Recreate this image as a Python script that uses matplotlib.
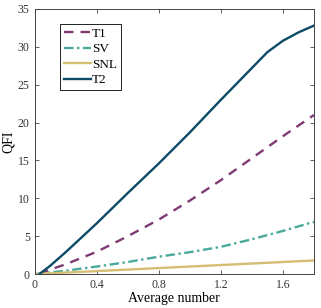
import matplotlib

matplotlib.use("Agg")
import matplotlib.pyplot as plt

plt.rcParams["font.family"] = ["Liberation Serif", "DejaVu Serif"]

# values
avg_t2 = [0.03, 0.1, 0.2, 0.4, 0.6, 0.8, 1.0, 1.2, 1.4, 1.5, 1.6, 1.7, 1.8]
qfi_t2 = [0.0, 1.1, 2.9, 6.7, 10.7, 14.6, 18.7, 23.0, 27.2, 29.3, 30.8, 31.9, 32.8]

avg_t1 = [0.03, 0.1, 0.2, 0.4, 0.6, 0.8, 1.0, 1.2, 1.4, 1.6, 1.8]
qfi_t1 = [0.0, 0.6, 1.3, 2.95, 5.0, 7.2, 9.7, 12.4, 15.3, 18.2, 21.0]

avg_sv = [0.0, 0.2, 0.4, 0.6, 0.8, 1.0, 1.2, 1.4, 1.6, 1.8]
qfi_sv = [0.0, 0.45, 1.0, 1.6, 2.3, 2.9, 3.6, 4.6, 5.7, 6.9]

avg_snl = [0.0, 0.4, 0.8, 1.2, 1.6, 1.8]
qfi_snl = [0.0, 0.4, 0.8, 1.2, 1.6, 1.8]

xticks = [0, 0.4, 0.8, 1.2, 1.6]
xticklabels = ["0", "0.4", "0.8", "1.2", "1.6"]
yticks = [0, 5, 10, 15, 20, 25, 30, 35]

fig = plt.figure(figsize=(3.21, 3.08), dpi=100)
ax = fig.add_axes([0.108, 0.110, 0.870, 0.861])

lw = 1.7
ax.plot(avg_t1, qfi_t1, color="#7E3A73", lw=lw, ls=(0, (4, 3)), label="T1")
ax.plot(avg_sv, qfi_sv, color="#4AA99B", lw=lw, ls=(0, (4, 1.5, 1, 1.5)), label="SV")
ax.plot(avg_snl, qfi_snl, color="#D5BE72", lw=lw, label="SNL")
ax.plot(avg_t2, qfi_t2, color="#0C4A66", lw=lw, label="T2",
        solid_joinstyle="round")

ax.set_xlim(0, 1.8)
ax.set_ylim(0, 35)
ax.set_xticks(xticks)
ax.set_xticklabels(xticklabels)
ax.set_yticks(yticks)
ax.tick_params(direction="in", top=True, right=True, labelsize=8.5,
               length=3, width=0.6, colors="#444444", labelcolor="#333333")
for s in ax.spines.values():
    s.set_color("#444444")
    s.set_linewidth(0.7)

ax.set_xlabel("Average number", fontsize=10, labelpad=1)
ax.set_ylabel("QFI", fontsize=10, labelpad=2)

leg = ax.legend(loc="upper left", bbox_to_anchor=(0.09, 0.945), fontsize=9.5,
                handlelength=2.1, handletextpad=0.05, borderpad=0.3,
                labelspacing=0.25, fancybox=False, framealpha=1,
                borderaxespad=0)
leg.get_frame().set_edgecolor("#222222")
leg.get_frame().set_linewidth(0.7)

fig.savefig("out.png", dpi=100)
